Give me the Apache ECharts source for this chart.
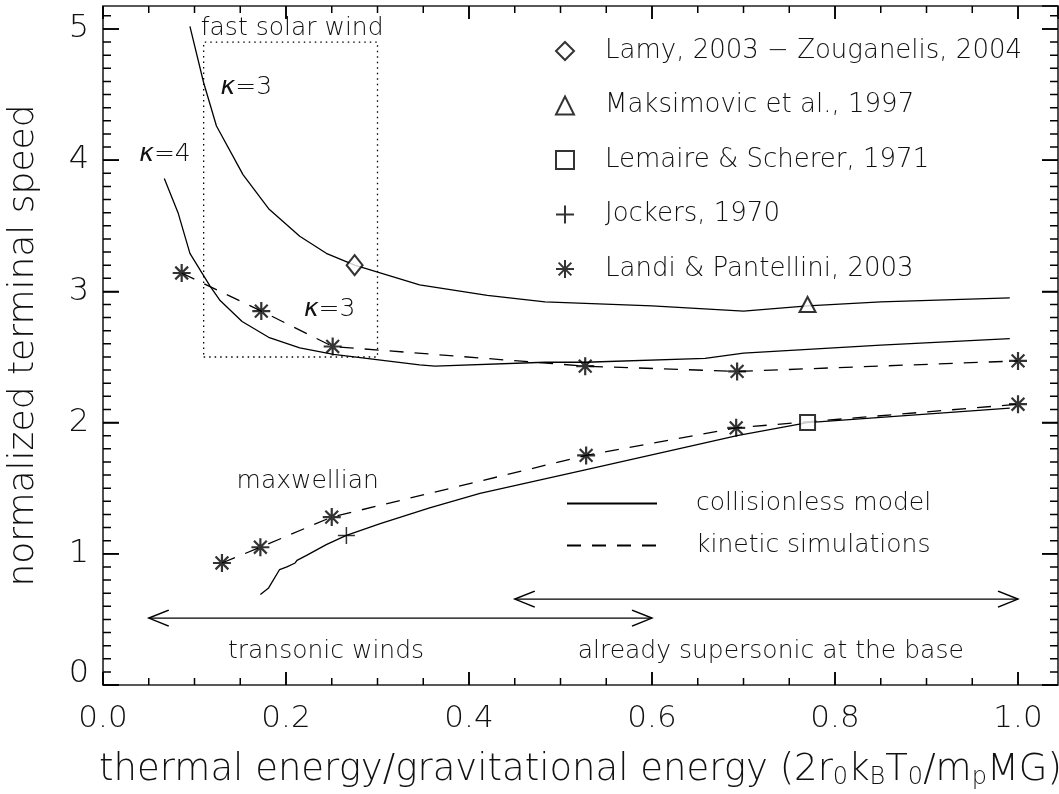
<!DOCTYPE html>
<html>
<head>
<meta charset="utf-8">
<script src="https://cdn.jsdelivr.net/npm/echarts@6.0.0/dist/echarts.min.js"></script>
<style>
  html, body { margin: 0; padding: 0; background: #fff; }
  #chart { width: 1059px; height: 794px; }
</style>
</head>
<body>
<div id="chart"></div>
<script>
// axis ranges (read from the frame)
const xRange = [0, 1.0437]
const yRange = [0, 5.175]
const xMajor = 0.2, xMinor = 0.05
const yMajor = 1, yMinor = 0.1

// collisionless model curves
const kappa3CollX = [0.095, 0.110, 0.124, 0.153, 0.181, 0.215, 0.244, 0.275, 0.346, 0.42, 0.483, 0.60, 0.70, 0.77, 0.85, 0.991]
const kappa3CollY = [5.02, 4.59, 4.26, 3.89, 3.63, 3.42, 3.29, 3.20, 3.05, 2.97, 2.92, 2.89, 2.85, 2.89, 2.92, 2.95]
const kappa4CollX = [0.067, 0.082, 0.095, 0.117, 0.128, 0.152, 0.181, 0.215, 0.252, 0.346, 0.363, 0.483, 0.527, 0.658, 0.70, 0.85, 0.991]
const kappa4CollY = [3.86, 3.60, 3.29, 3.04, 2.93, 2.77, 2.65, 2.57, 2.52, 2.44, 2.43, 2.46, 2.46, 2.49, 2.53, 2.59, 2.64]
const maxwCollX = [0.172, 0.181, 0.193, 0.201, 0.210, 0.212, 0.223, 0.244, 0.266, 0.303, 0.357, 0.412, 0.527, 0.693, 0.77, 0.991]
const maxwCollY = [0.69, 0.74, 0.88, 0.90, 0.93, 0.95, 0.99, 1.07, 1.14, 1.23, 1.35, 1.46, 1.64, 1.90, 2.00, 2.11]

// kinetic simulations (Landi & Pantellini)
const kappaSimX = [0.086, 0.173, 0.251, 0.527, 0.693, 1.0]
const kappaSimY = [3.14, 2.85, 2.58, 2.43, 2.39, 2.47]
const maxwSimX = [0.130, 0.172, 0.250, 0.528, 0.692, 1.0]
const maxwSimY = [0.93, 1.05, 1.28, 1.75, 1.96, 2.14]

// single observations / models
const lamyPt = [0.275, 3.20]
const maksimovicPt = [0.77, 2.90]
const lemairePt = [0.77, 2.00]
const jockersPt = [0.266, 1.14]

// fast solar wind box
const boxX = [0.11, 0.30, 0.30, 0.11, 0.11]
const boxY = [2.5, 2.5, 4.9, 4.9, 2.5]

// regime arrows
const transonicArrowX = [0.05, 0.60]
const transonicArrowY = 0.51
const supersonicArrowX = [0.45, 1.0]
const supersonicArrowY = 0.655

// text notes
const noteTexts = ['fast solar wind', '{k|κ}=3', '{k|κ}=4', '{k|κ}=3', 'maxwellian', 'transonic winds', 'already supersonic at the base']
const noteX = [0.207, 0.157, 0.068, 0.248, 0.224, 0.244, 0.73]
const noteY = [5.0, 4.55, 4.04, 2.86, 1.55, 0.25, 0.25]

const legendNames = ['Lamy, 2003 − Zouganelis, 2004', 'Maksimovic et al., 1997', 'Lemaire & Scherer, 1971', 'Jockers, 1970', 'Landi & Pantellini, 2003']
const lineNames = ['collisionless model', 'kinetic simulations']

const zip = (xs, ys) => xs.map((x, i) => [x, ys[i]])

const FONT = "'DejaVu Sans', sans-serif"
const INK = '#111'
const txt = (size) => ({ fontFamily: FONT, fontWeight: 200, fontSize: size, color: INK })

const asterisk = 'path://M10,0L10,20M0,10L20,10M2.9,2.9L17.1,17.1M2.9,17.1L17.1,2.9'
const plus = 'path://M10,0L10,20M0,10L20,10'
const arrowLeft = 'path://M20,0L0,9L20,18'
const arrowRight = 'path://M0,0L20,9L0,18'

const strokeOnly = { color: 'rgba(0,0,0,0)', borderColor: '#000', borderWidth: 1.5 }
const hollow = { color: '#000', borderColor: '#000', borderWidth: 1.2 }

const GRID = { left: 103, right: 1, top: 6, bottom: 109 }
const plotW = 1059 - GRID.left - GRID.right
const plotH = 794 - GRID.top - GRID.bottom
const xPerPx = (xRange[1] - xRange[0]) / plotW
const yPerPx = (yRange[1] - yRange[0]) / plotH

// inward tick marks on all four sides, as broken line segments
function tickValues(range, step) {
  const out = []
  const n = Math.floor(range[1] / step + 1e-6)
  for (let i = 0; i <= n; i++) out.push(+(i * step).toFixed(4))
  return out
}
const isMajor = (v, step) => Math.abs(v / step - Math.round(v / step)) < 1e-6
const gap = ['-', '-']
const tickSegs = []
tickValues(xRange, xMinor).forEach(v => {
  const h = (isMajor(v, xMajor) ? 13 : 7) * yPerPx
  tickSegs.push([v, yRange[0]], [v, yRange[0] + h], gap, [v, yRange[1]], [v, yRange[1] - h], gap)
})
tickValues(yRange, yMinor).forEach(v => {
  const w = (isMajor(v, yMajor) ? 16 : 8) * xPerPx
  tickSegs.push([xRange[0], v], [xRange[0] + w, v], gap, [xRange[1], v], [xRange[1] - w, v], gap)
})

const tickStyle = { color: '#000', width: 1.5 }

// extra axes on the top and right edges, ticks only
const mirrorX = {
  type: 'value', position: 'top', min: xRange[0], max: xRange[1], interval: xMajor,
  axisLine: { show: false, onZero: false },
  axisTick: { show: true, inside: true, length: 13, lineStyle: tickStyle },
  minorTick: { show: false },
  axisLabel: { show: false }, splitLine: { show: false }
}
const mirrorY = {
  type: 'value', position: 'right', min: yRange[0], max: yRange[1], interval: yMajor,
  axisLine: { show: false, onZero: false },
  axisTick: { show: true, inside: true, length: 16, lineStyle: tickStyle },
  axisLabel: { show: false }, splitLine: { show: false }
}

const solid = { color: '#000', width: 1.3, type: 'solid' }
const dashed = { color: '#000', width: 1.3, type: [14, 11] }

const lineSeries = (name, xs, ys, style) => ({
  name, type: 'line', data: zip(xs, ys), symbol: 'none', smooth: false,
  lineStyle: style, itemStyle: { color: '#000' }, z: 3, silent: true
})

const pointSeries = (name, data, symbol, size, style) => ({
  name, type: 'scatter', data, symbol, symbolSize: size,
  itemStyle: style, z: 5, silent: true
})

const arrowSeries = (xs, yv) => ({
  type: 'line', silent: true, z: 3,
  lineStyle: { color: '#000', width: 1.3 },
  itemStyle: strokeOnly,
  symbolSize: [20, 16],
  data: [
    { value: [xs[0], yv], symbol: arrowLeft, symbolOffset: [10, 0] },
    { value: [xs[1], yv], symbol: arrowRight, symbolOffset: [-10, 0] }
  ]
})

const chart = echarts.init(document.getElementById('chart'))

chart.setOption({
  backgroundColor: '#fff',
  animation: false,
  grid: {
    ...GRID, containLabel: false, outerBoundsMode: 'none',
    show: true, borderColor: '#222', borderWidth: 1.6, backgroundColor: 'transparent'
  },
  xAxis: [
    {
      type: 'value', position: 'bottom', min: xRange[0], max: xRange[1], interval: xMajor,
      axisLine: { show: false, onZero: false },
      axisTick: { show: true, inside: true, length: 13, lineStyle: tickStyle },
      axisLabel: { show: true, ...txt(31), margin: 18, showMaxLabel: false, formatter: v => v.toFixed(1) },
      splitLine: { show: false },
      name: 'thermal energy/gravitational energy (2r{s|0}k{s|B}T{s|0}/m{s|p}MG)',
      nameLocation: 'middle', nameGap: 65, nameMoveOverlap: false,
      nameTextStyle: { ...txt(37), rich: { s: { ...txt(24), padding: [16, 0, 0, 0] } } }
    },
    mirrorX
  ],
  yAxis: [
    {
      type: 'value', position: 'left', min: yRange[0], max: yRange[1], interval: yMajor,
      axisLine: { show: false, onZero: false },
      axisTick: { show: true, inside: true, length: 16, lineStyle: tickStyle },
      axisLabel: {
        show: true, ...txt(32), margin: 14, showMaxLabel: false,
        formatter: v => v === 0 ? '{z|0}' : String(v),
        rich: { z: { ...txt(32), padding: [0, 0, 22, 0] } }
      },
      splitLine: { show: false },
      name: 'normalized terminal speed',
      nameLocation: 'middle', nameGap: 61, nameRotate: 90, nameMoveOverlap: false,
      nameTextStyle: txt(36)
    },
    mirrorY
  ],
  legend: [
    {
      data: legendNames, orient: 'vertical', left: 550, top: 33,
      itemWidth: 18, itemHeight: 18, itemGap: 28.5, selectedMode: false,
      textStyle: { ...txt(26), lineHeight: 24, padding: [0, 0, 0, 26] }
    },
    {
      data: lineNames, orient: 'vertical', left: 561, top: 486,
      itemWidth: 90, itemHeight: 14, itemGap: 17, selectedMode: false,
      itemStyle: { color: 'rgba(0,0,0,0)', borderColor: 'rgba(0,0,0,0)', borderWidth: 0, opacity: 0 },
      textStyle: { ...txt(25), lineHeight: 24, padding: [0, 0, 0, 34] }
    }
  ],
  series: [
    {
      type: 'line', data: tickSegs, symbol: 'none', silent: true, z: 4,
      connectNulls: false, clip: false,
      lineStyle: tickStyle
    },
    lineSeries(lineNames[0], kappa3CollX, kappa3CollY, solid),
    lineSeries(lineNames[0], kappa4CollX, kappa4CollY, solid),
    lineSeries(lineNames[0], maxwCollX, maxwCollY, solid),
    lineSeries(lineNames[1], kappaSimX, kappaSimY, dashed),
    lineSeries(lineNames[1], maxwSimX, maxwSimY, dashed),
    pointSeries(legendNames[0], [lamyPt], 'emptyDiamond', [16, 20], hollow),
    pointSeries(legendNames[1], [maksimovicPt], 'emptyTriangle', [16, 15], hollow),
    pointSeries(legendNames[2], [lemairePt], 'emptyRect', 15, hollow),
    pointSeries(legendNames[3], [jockersPt], plus, 17, strokeOnly),
    pointSeries(legendNames[4], zip(kappaSimX, kappaSimY).concat(zip(maxwSimX, maxwSimY)), asterisk, 18,
      { color: 'rgba(0,0,0,0)', borderColor: '#000', borderWidth: 2.2 }),
    {
      type: 'line', data: zip(boxX, boxY), symbol: 'none', silent: true, z: 2,
      lineStyle: { color: '#000', width: 1.3, type: [1.5, 4] }
    },
    arrowSeries(transonicArrowX, transonicArrowY),
    arrowSeries(supersonicArrowX, supersonicArrowY),
    {
      type: 'scatter', symbol: 'circle', symbolSize: 0.5, silent: true, z: 6,
      itemStyle: { color: '#fff', opacity: 1 },
      data: noteTexts.map((t, i) => ({ value: [noteX[i], noteY[i]], name: t })),
      label: {
        show: true, position: [0, 0], align: 'center', verticalAlign: 'middle',
        formatter: p => p.name, textBorderWidth: 0,
        ...txt(25),
        rich: { k: { ...txt(25), fontStyle: 'italic' } }
      }
    }
  ]
})
</script>
</body>
</html>
